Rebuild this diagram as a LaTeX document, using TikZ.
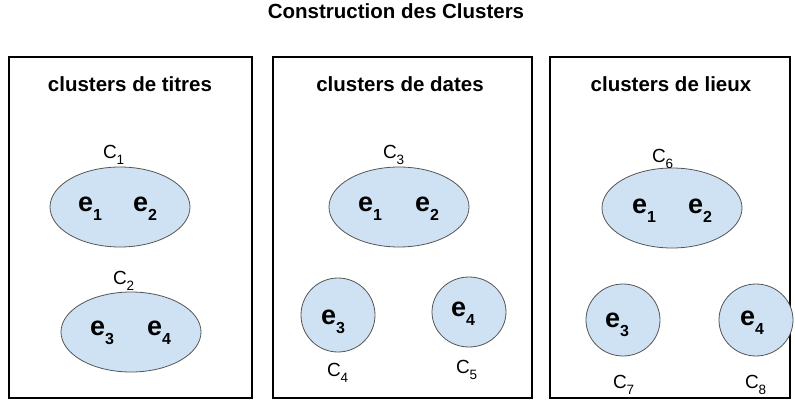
\documentclass[tikz,border=0pt]{standalone}
\usepackage{fontspec}
\setmainfont{Liberation Sans}
\usetikzlibrary{shapes.geometric}
\definecolor{clfill}{HTML}{CFE2F3}
\definecolor{clline}{HTML}{555555}
\newcommand{\eSub}[1]{{\fontsize{27}{27}\selectfont\bfseries e}\raisebox{-9pt}{\fontsize{16}{16}\selectfont\bfseries #1}}
\newcommand{\cSub}[1]{{\fontsize{19}{19}\selectfont C}\raisebox{-6.5pt}{\fontsize{13.5}{13.5}\selectfont #1}}
\begin{document}
\begin{tikzpicture}[x=1pt,y=-1pt,
  panel/.style={draw=black,line width=1.3pt},
  clus/.style={draw=clline,fill=clfill,line width=0.8pt},
  txt/.style={inner sep=0pt,outer sep=0pt,anchor=base west},
  head/.style={inner sep=0pt,anchor=base,font=\fontsize{20.5}{24}\selectfont\bfseries}]
\useasboundingbox (0,0) rectangle (795,410);
\node[head] (title) at (396,18) {Construction des Clusters};
% panels
\draw[panel] (9,57) rectangle (252,398);
\draw[panel] (273,57) rectangle (532,398);
\draw[panel] (550,57) rectangle (790,398);
\node[head] (h1) at (130,91) {clusters de titres};
\node[head] (h2) at (400,91) {clusters de dates};
\node[head] (h3) at (671,91) {clusters de lieux};
% panel 1
\draw[clus] (120,207) ellipse [x radius=70, y radius=40];
\draw[clus] (131,332) ellipse [x radius=70, y radius=40];
\node[txt] (c1) at (103,158) {\cSub{1}};
\node[txt] (c2) at (113,284) {\cSub{2}};
\node[txt] (p1e1) at (78,211) {\eSub{1}};
\node[txt] (p1e2) at (133,211) {\eSub{2}};
\node[txt] (p1e3) at (90,335) {\eSub{3}};
\node[txt] (p1e4) at (147,335) {\eSub{4}};
% panel 2
\draw[clus] (399,207) ellipse [x radius=70, y radius=40];
\draw[clus] (338,315) ellipse [x radius=37, y radius=37];
\draw[clus] (469,312) ellipse [x radius=37, y radius=35];
\node[txt] (c3) at (383,158) {\cSub{3}};
\node[txt] (c4) at (327,376) {\cSub{4}};
\node[txt] (c5) at (456,373) {\cSub{5}};
\node[txt] (p2e1) at (358,211) {\eSub{1}};
\node[txt] (p2e2) at (415,211) {\eSub{2}};
\node[txt] (p2e3) at (321,324) {\eSub{3}};
\node[txt] (p2e4) at (451,316) {\eSub{4}};
% panel 3
\draw[clus] (672,208) ellipse [x radius=70, y radius=40];
\draw[clus] (623,320) ellipse [x radius=37, y radius=36];
\draw[clus] (756,320) ellipse [x radius=37, y radius=36];
\node[txt] (c6) at (652,162) {\cSub{6}};
\node[txt] (c7) at (613,388) {\cSub{7}};
\node[txt] (c8) at (745,388) {\cSub{8}};
\node[txt] (p3e1) at (632,213) {\eSub{1}};
\node[txt] (p3e2) at (688,213) {\eSub{2}};
\node[txt] (p3e3) at (605,327) {\eSub{3}};
\node[txt] (p3e4) at (740,325) {\eSub{4}};
\end{tikzpicture}
\end{document}
